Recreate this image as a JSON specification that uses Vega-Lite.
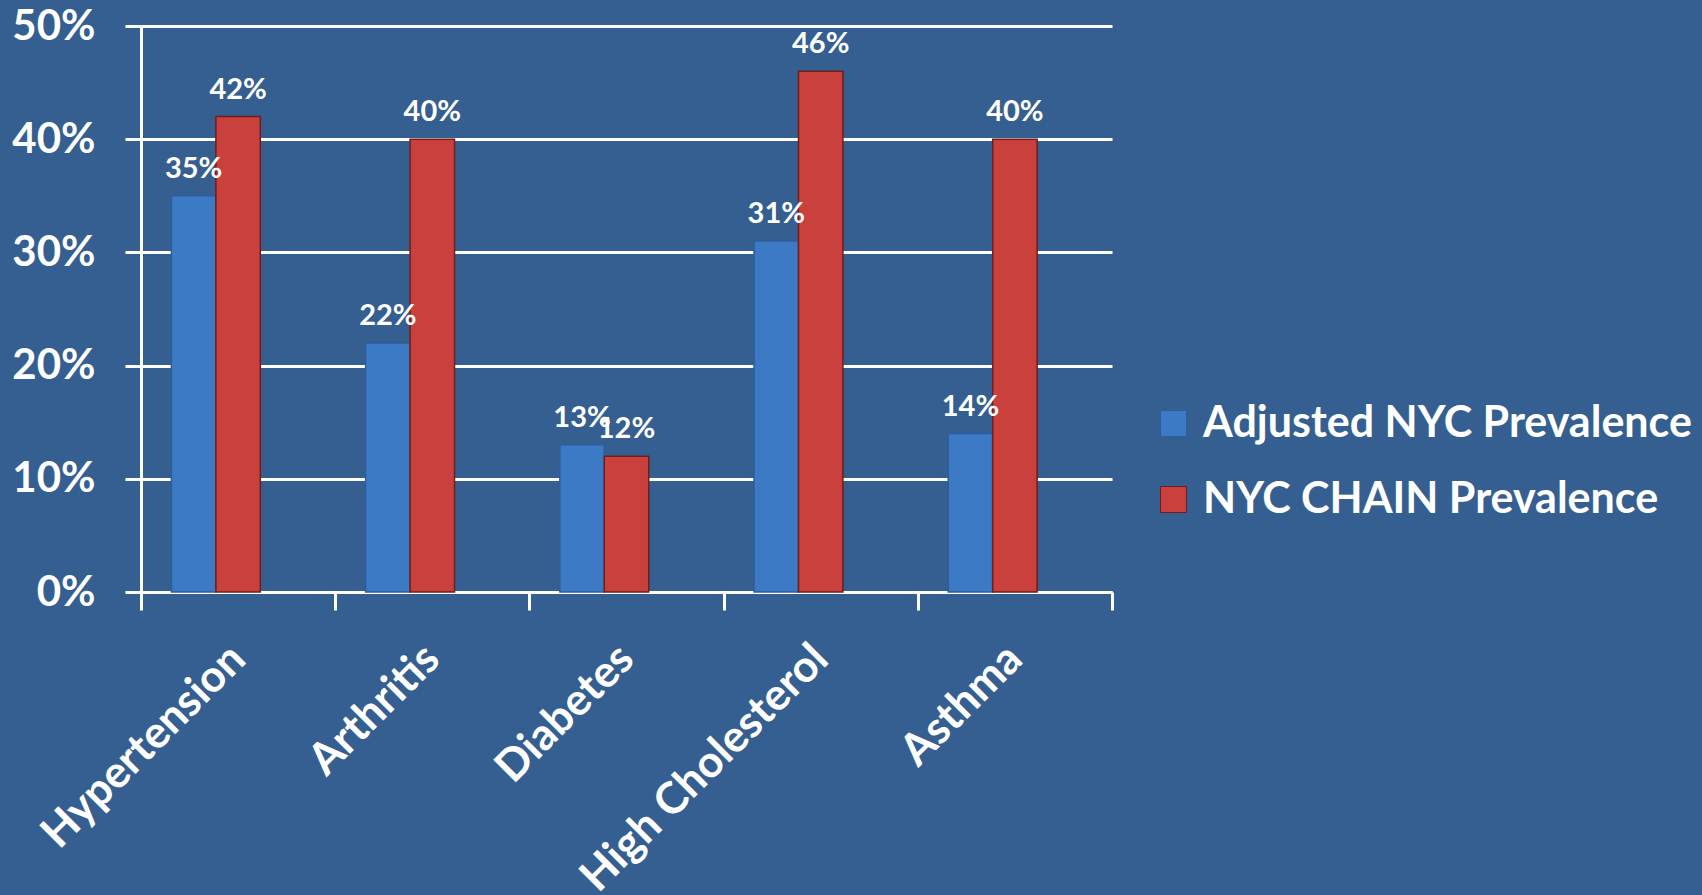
{
  "$schema": "https://vega.github.io/schema/vega-lite/v6.json",
  "autosize": {"type": "none"},
  "width": 971,
  "height": 566,
  "padding": {"left": 141, "top": 26, "right": 590, "bottom": 303},
  "background": "#365F91",
  "config": {
    "view": {"stroke": null},
    "font": "Lato"
  },
  "data": {
    "values": [
      {"condition": "Hypertension", "series": "Adjusted NYC Prevalence", "value": 0.35},
      {"condition": "Hypertension", "series": "NYC CHAIN Prevalence", "value": 0.42},
      {"condition": "Arthritis", "series": "Adjusted NYC Prevalence", "value": 0.22},
      {"condition": "Arthritis", "series": "NYC CHAIN Prevalence", "value": 0.40},
      {"condition": "Diabetes", "series": "Adjusted NYC Prevalence", "value": 0.13},
      {"condition": "Diabetes", "series": "NYC CHAIN Prevalence", "value": 0.12},
      {"condition": "High Cholesterol", "series": "Adjusted NYC Prevalence", "value": 0.31},
      {"condition": "High Cholesterol", "series": "NYC CHAIN Prevalence", "value": 0.46},
      {"condition": "Asthma", "series": "Adjusted NYC Prevalence", "value": 0.14},
      {"condition": "Asthma", "series": "NYC CHAIN Prevalence", "value": 0.40}
    ]
  },
  "encoding": {
    "x": {
      "field": "condition",
      "type": "nominal",
      "sort": ["Hypertension", "Arthritis", "Diabetes", "High Cholesterol", "Asthma"],
      "scale": {"paddingInner": 0, "paddingOuter": 0},
      "axis": {
        "title": null,
        "domainColor": "white",
        "domainWidth": 3,
        "tickColor": "white",
        "tickWidth": 3,
        "tickSize": 18,
        "tickBand": "extent",
        "labelColor": "white",
        "labelFontSize": 44,
        "labelFontWeight": "bold",
        "labelAngle": -45,
        "labelAlign": "right",
        "labelBaseline": "middle",
        "labelPadding": 42,
        "labelLimit": 500
      }
    },
    "xOffset": {
      "field": "series",
      "type": "nominal",
      "scale": {
        "domain": ["Adjusted NYC Prevalence", "NYC CHAIN Prevalence", "_pad"],
        "paddingInner": 0,
        "paddingOuter": 0.685
      }
    },
    "y": {
      "field": "value",
      "type": "quantitative",
      "scale": {"domain": [0, 0.5]},
      "axis": {
        "title": null,
        "values": [0, 0.1, 0.2, 0.3, 0.4, 0.5],
        "format": ".0%",
        "grid": true,
        "gridColor": "white",
        "gridWidth": 3,
        "gridOpacity": 1,
        "domainColor": "white",
        "domainWidth": 3,
        "tickColor": "white",
        "tickWidth": 3,
        "tickSize": 16,
        "labelColor": "white",
        "labelFontSize": 42,
        "labelFontWeight": "bold",
        "labelPadding": 30
      }
    }
  },
  "layer": [
    {
      "mark": {"type": "bar", "strokeWidth": 1.5},
      "encoding": {
        "color": {
          "field": "series",
          "type": "nominal",
          "scale": {
            "domain": ["Adjusted NYC Prevalence", "NYC CHAIN Prevalence"],
            "range": ["#3C7AC6", "#CA403C"]
          },
          "legend": {
            "title": null,
            "orient": "none",
            "legendX": 1011,
            "legendY": 376,
            "symbolType": "square",
            "symbolSize": 676,
            "symbolStrokeColor": "#2A4E80",
            "symbolStrokeWidth": 1,
            "labelColor": "white",
            "labelFontSize": 43,
            "labelFontWeight": "bold",
            "labelOffset": 8,
            "labelLimit": 600,
            "rowPadding": 32
          }
        },
        "stroke": {
          "field": "series",
          "type": "nominal",
          "scale": {
            "domain": ["Adjusted NYC Prevalence", "NYC CHAIN Prevalence"],
            "range": ["#2E5E9A", "#6E1E1C"]
          },
          "legend": null
        }
      }
    },
    {
      "mark": {
        "type": "text",
        "baseline": "bottom",
        "dy": -12,
        "color": "white",
        "fontSize": 29,
        "fontWeight": "bold"
      },
      "encoding": {
        "text": {"field": "value", "type": "quantitative", "format": ".0%"}
      }
    }
  ]
}
